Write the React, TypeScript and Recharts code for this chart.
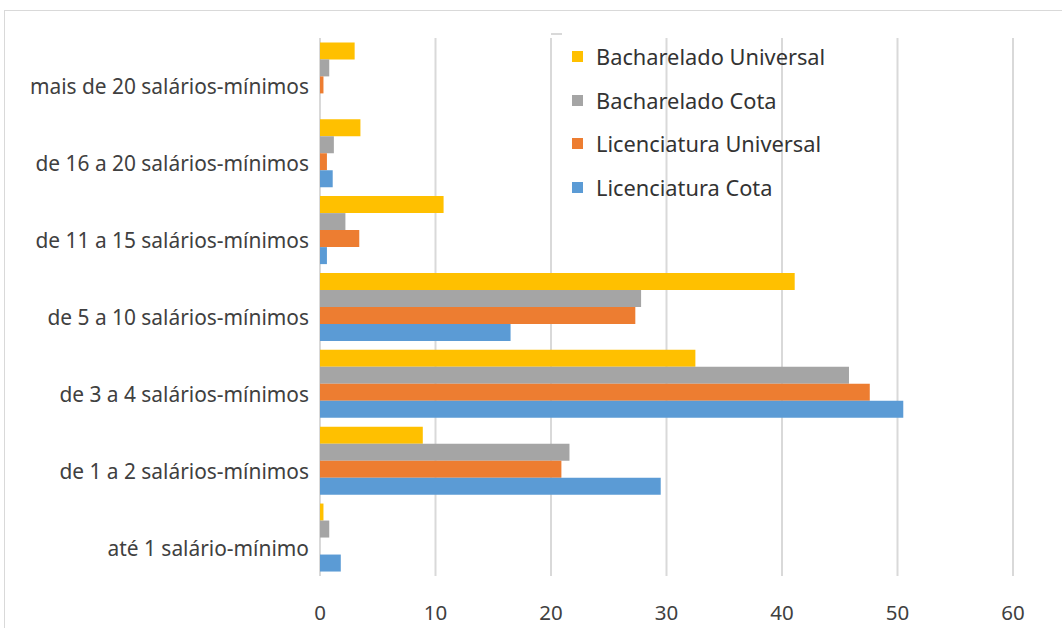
import React from "react";
import { BarChart, Bar, XAxis, YAxis, CartesianGrid } from "recharts";

const categories = [
  "mais de 20 salários-mínimos",
  "de 16 a 20 salários-mínimos",
  "de 11 a 15 salários-mínimos",
  "de 5 a 10 salários-mínimos",
  "de 3 a 4 salários-mínimos",
  "de 1 a 2 salários-mínimos",
  "até 1 salário-mínimo",
];

const bachareladoUniversal = [3.0, 3.5, 10.7, 41.1, 32.5, 8.9, 0.3];
const bachareladoCota = [0.8, 1.2, 2.2, 27.8, 45.8, 21.6, 0.8];
const licenciaturaUniversal = [0.3, 0.6, 3.4, 27.3, 47.6, 20.9, 0];
const licenciaturaCota = [0, 1.1, 0.6, 16.5, 50.5, 29.5, 1.8];

const xTicks = [0, 10, 20, 30, 40, 50, 60];

const series = [
  { key: "bu", name: "Bacharelado Universal", color: "#FFC000" },
  { key: "bc", name: "Bacharelado Cota", color: "#A5A5A5" },
  { key: "lu", name: "Licenciatura Universal", color: "#ED7D31" },
  { key: "lc", name: "Licenciatura Cota", color: "#5B9BD5" },
];

const data = categories.map((name, i) => ({
  name,
  bu: bachareladoUniversal[i],
  bc: bachareladoCota[i],
  lu: licenciaturaUniversal[i],
  lc: licenciaturaCota[i],
}));

const FONT = "'Noto Sans', 'Open Sans', sans-serif";
const TEXT = "#404040";

const CategoryTick = ({ x, y, payload }: any) => (
  <text
    x={x - 11}
    y={y + 10}
    textAnchor="end"
    dominantBaseline="central"
    fontFamily={FONT}
    fontSize={20.9}
    fill={TEXT}
  >
    {payload.value}
  </text>
);

const ValueTick = ({ x, y, payload }: any) => (
  <text
    x={x}
    y={y + 36}
    textAnchor="middle"
    dominantBaseline="central"
    fontFamily={FONT}
    fontSize={20.5}
    fill={TEXT}
  >
    {payload.value}
  </text>
);

function LegendBox() {
  return (
    <div style={{ position: "absolute", left: 572, top: 45, fontFamily: FONT }}>
      {series.map((s, i) => (
        <div
          key={s.key}
          style={{ position: "absolute", top: i * 43.5, left: 0, display: "flex", alignItems: "center", whiteSpace: "nowrap" }}
        >
          <span style={{ width: 11, height: 11, background: s.color, display: "inline-block" }} />
          <span style={{ marginLeft: 13, fontSize: 21.8, color: "#333", lineHeight: "23px" }}>{s.name}</span>
        </div>
      ))}
    </div>
  );
}

export default function App() {
  return (
    <div
      style={{
        position: "absolute",
        left: 0,
        top: 0,
        width: 1062,
        height: 628,
        overflow: "hidden",
        background: "#fff",
      }}
    >
      <div
        style={{
          position: "absolute",
          left: 4,
          top: 10,
          width: 1080,
          height: 640,
          border: "1px solid #d9d9d9",
        }}
      />
      <div style={{ position: "absolute", left: 551, top: 33, width: 11, height: 1.5, background: "#d9d9d9" }} />
      <div style={{ position: "absolute", left: 0, top: 0 }}>
        <BarChart
          width={1062}
          height={628}
          data={data}
          layout="vertical"
          margin={{ top: 38, right: 49, left: 0, bottom: 12 }}
          barCategoryGap={4.4}
          barGap={0}
        >
          <CartesianGrid horizontal={false} stroke="#d9d9d9" strokeWidth={2} />
          <XAxis
            type="number"
            domain={[0, 60]}
            ticks={xTicks}
            axisLine={false}
            tickLine={false}
            tickSize={0}
            tickMargin={0}
            height={40}
            tick={<ValueTick />}
          />
          <YAxis
            type="category"
            dataKey="name"
            width={320}
            axisLine={false}
            tickLine={false}
            tickSize={0}
            tickMargin={0}
            tick={<CategoryTick />}
            interval={0}
          />
          {series.map((s) => (
            <Bar key={s.key} dataKey={s.key} name={s.name} fill={s.color} isAnimationActive={false} />
          ))}
        </BarChart>
      </div>
      <LegendBox />
    </div>
  );
}
